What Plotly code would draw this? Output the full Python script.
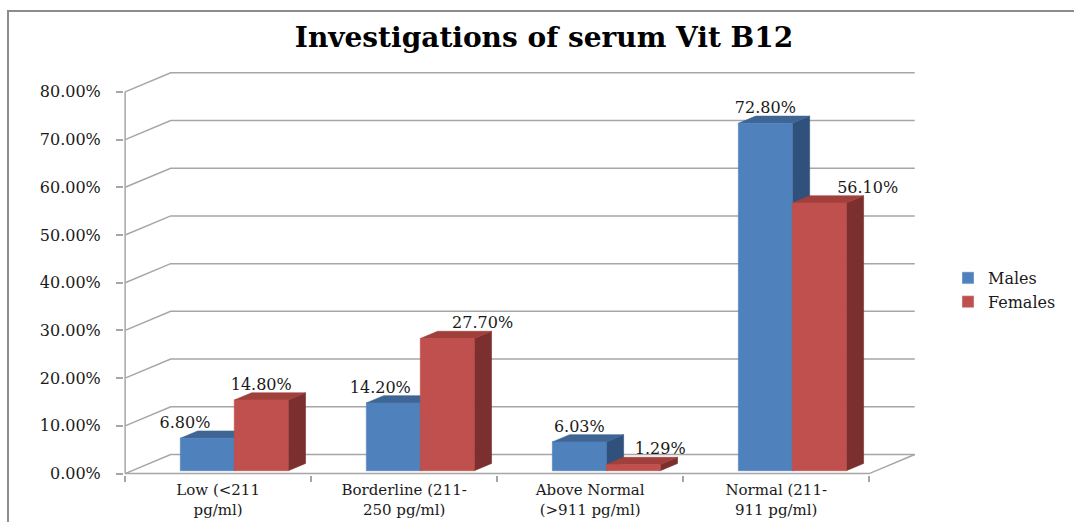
import plotly.graph_objects as go

# ---------------- data ----------------
categories = ["Low (<211<br>pg/ml)", "Borderline (211-<br>250 pg/ml)",
              "Above Normal<br>(>911 pg/ml)", "Normal (211-<br>911 pg/ml)"]
males = [6.80, 14.20, 6.03, 72.80]
females = [14.80, 27.70, 1.29, 56.10]
series_names = ["Males", "Females"]
y_ticks = [0, 10, 20, 30, 40, 50, 60, 70, 80]
y_ticktext = [f"{v:.2f}%" for v in y_ticks]

# ---------------- styling / pseudo-3D geometry ----------------
DX, DY = 0.245, 4.0          # depth offset of the back wall (x units, % units)
D0, D1 = 0.15, 0.53          # depth range occupied by the bars
BAR_START, BAR_W = 0.26, 0.29
front_col = ["#4F81BD", "#C0504D"]
top_col = ["#3E6594", "#A03F3C"]
side_col = ["#30517B", "#7B2F2E"]
grid_col = "#A6A6A6"
txt_col = "#1a1a1a"
FONT = "DejaVu Serif"
label_shift = [[-0.12, -0.07, 0.0, 0.0], [0.0, 0.19, 0.145, 0.26]]  # label nudges (x units)
LABEL_UP = 3.0

n = len(categories)

def proj(x, y, d):
    return x + d * DX, y + d * DY

fig = go.Figure()

# ---- walls: gridlines on back wall + left wall diagonals ----
gx, gy = [], []
for v in y_ticks:
    for (x, d) in [(0, 0), (0, 1), (n, 1)]:
        px, py = proj(x, v, d)
        gx.append(px); gy.append(py)
    gx.append(None); gy.append(None)
# floor front edge + right floor edge, front vertical axis
for pts in [[(0, 0, 0), (n, 0, 0), (n, 0, 1)], [(0, 0, 0), (0, y_ticks[-1], 0)]]:
    for (x, y, d) in pts:
        px, py = proj(x, y, d)
        gx.append(px); gy.append(py)
    gx.append(None); gy.append(None)
fig.add_trace(go.Scatter(x=gx, y=gy, mode="lines", line=dict(color=grid_col, width=1.5),
                         hoverinfo="skip", showlegend=False))

# ---- bars (side, top, front faces) ----
for s, vals in enumerate([males, females]):
    face_pts = {"side": ([], []), "top": ([], []), "front": ([], [])}
    for i, v in enumerate(vals):
        xl = i + BAR_START + s * BAR_W
        xr = xl + BAR_W
        polys = {
            "front": [(xl, 0, D0), (xr, 0, D0), (xr, v, D0), (xl, v, D0)],
            "top": [(xl, v, D0), (xr, v, D0), (xr, v, D1), (xl, v, D1)],
            "side": [(xr, 0, D0), (xr, 0, D1), (xr, v, D1), (xr, v, D0)],
        }
        for k, pts in polys.items():
            X, Y = face_pts[k]
            for (x, y, d) in pts + [pts[0]]:
                px, py = proj(x, y, d)
                X.append(px); Y.append(py)
            X.append(None); Y.append(None)
    for k, col in [("side", side_col[s]), ("top", top_col[s]), ("front", front_col[s])]:
        X, Y = face_pts[k]
        fig.add_trace(go.Scatter(x=X, y=Y, mode="lines", fill="toself", fillcolor=col,
                                 line=dict(color=col, width=0.6), hoverinfo="skip",
                                 showlegend=False))

# ---- data labels ----
for s, vals in enumerate([males, females]):
    lx, ly, lt = [], [], []
    for i, v in enumerate(vals):
        xl = i + BAR_START + s * BAR_W
        cx, cy = proj(xl + BAR_W / 2, v, D0)
        lx.append(cx + label_shift[s][i]); ly.append(cy + LABEL_UP)
        lt.append(f"{v:.2f}%")
    fig.add_trace(go.Scatter(x=lx, y=ly, mode="text", text=lt, textposition="middle center",
                             textfont=dict(family=FONT, size=16, color=txt_col),
                             hoverinfo="skip", showlegend=False, cliponaxis=False))

# ---- legend entries ----
for s, name in enumerate(series_names):
    fig.add_trace(go.Bar(x=[None], y=[None], name=name, marker=dict(color=front_col[s])))

# ---------------- layout ----------------
W, H = 1074, 522
ML, MR, MT, MB = 124, 149, 68, 47
plot_w, plot_h = W - ML - MR, H - MT - MB

def px2paper(x, y):
    return (x - ML) / plot_w, (H - MB - y) / plot_h

bx0, by0 = px2paper(8, 11)
bx1, by1 = px2paper(1090, 540)

fig.update_layout(
    width=W, height=H,
    margin=dict(l=ML, r=MR, t=MT, b=MB, autoexpand=False),
    paper_bgcolor="white", plot_bgcolor="white",
    title=dict(text="<b>Investigations of serum Vit B12</b>", xref="container", x=544 / W,
               xanchor="center", yref="container", y=1 - 37 / H, yanchor="middle",
               font=dict(family=FONT, size=28, color="#000000")),
    xaxis=dict(range=[-0.006, 4.3], showgrid=False, zeroline=False, showline=False,
               automargin=False,
               tickmode="array", tickvals=[i + 0.5 for i in range(n)], ticktext=categories,
               ticks="", tickfont=dict(family=FONT, size=15, color=txt_col),
               ticklabelstandoff=4,
               minor=dict(tickmode="array", tickvals=list(range(n + 1)), ticks="outside",
                          ticklen=6, tickcolor=grid_col, tickwidth=1.5, showgrid=False)),
    yaxis=dict(range=[-0.3, 85], showgrid=False, zeroline=False, showline=False,
               automargin=False,
               tickmode="array", tickvals=y_ticks, ticktext=y_ticktext,
               ticks="outside", ticklen=7, tickcolor=grid_col, tickwidth=1.5,
               ticklabelstandoff=12,
               tickfont=dict(family=FONT, size=16, color=txt_col)),
    legend=dict(x=(948 - ML) / plot_w, y=px2paper(0, 290)[1], xanchor="left", yanchor="middle",
                font=dict(family=FONT, size=16, color=txt_col), bgcolor="rgba(0,0,0,0)",
                tracegroupgap=2),
    shapes=[dict(type="rect", xref="paper", yref="paper", x0=bx0, y0=by1, x1=bx1, y1=by0,
                 line=dict(color="#8C8C8C", width=2), fillcolor="rgba(0,0,0,0)", layer="below")],
    showlegend=True,
)

fig.write_html("out.html", config={"displayModeBar": False},
               post_script="document.body.style.margin='0';document.body.style.overflow='hidden';")
